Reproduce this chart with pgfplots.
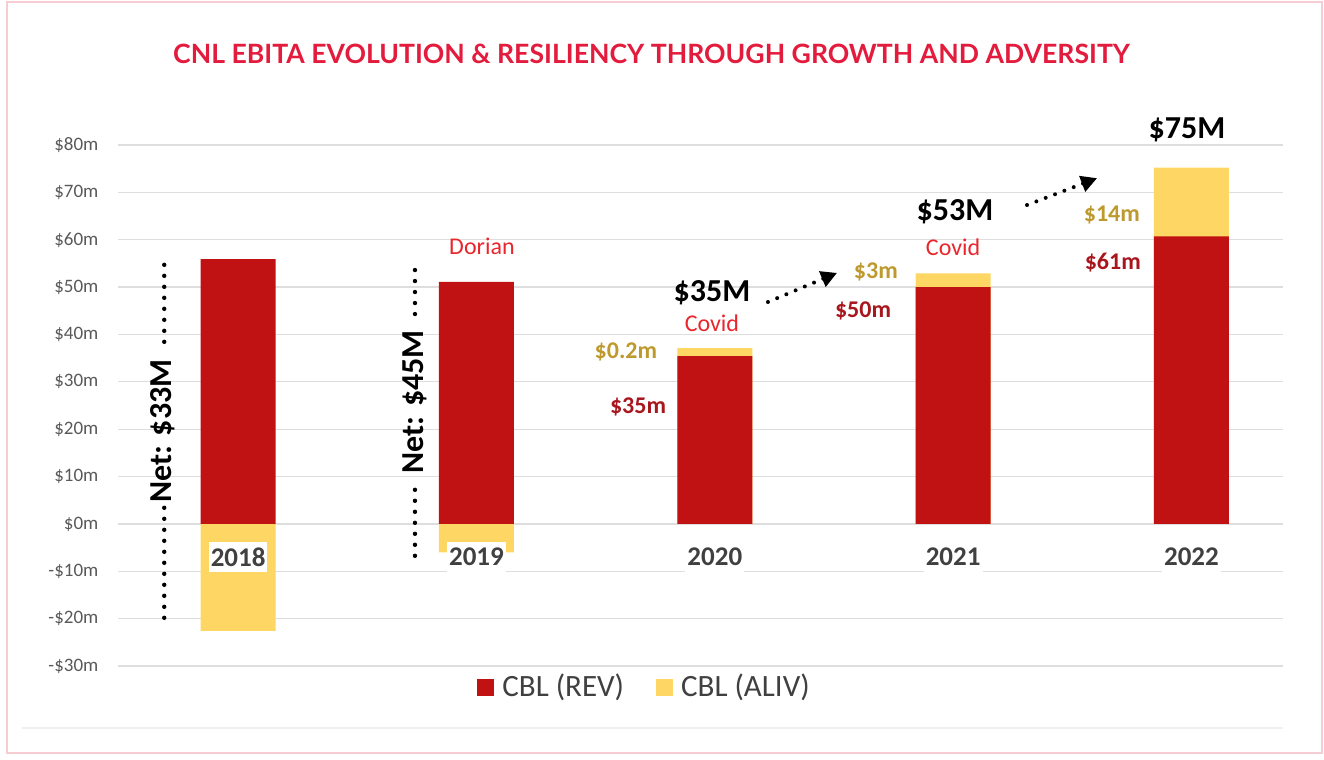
\documentclass[border=0pt]{standalone}
\usepackage{pgfplots}
\pgfplotsset{compat=1.18}
\usepackage{pgfplotstable}
\usepackage{fontspec}
\setmainfont{Carlito}
\newfontfamily\titlefont{Lato}
\usetikzlibrary{arrows.meta}

\definecolor{revred}{HTML}{C01212}
\definecolor{alivyel}{HTML}{FED664}
\definecolor{titlered}{HTML}{E31B3D}
\definecolor{notered}{HTML}{E8262C}
\definecolor{darkred}{HTML}{A8171E}
\definecolor{gold}{HTML}{BE9A2E}
\definecolor{gridgray}{HTML}{DEDEDE}
\definecolor{ticktext}{HTML}{595959}
\definecolor{labeltext}{HTML}{404040}
\definecolor{framepink}{HTML}{F7CDD4}

% EBITA in $m
\pgfplotstableread{
x year rev aliv
0 2018 55.9 -22.6
1 2019 51.1 -6.0
2 2020 35.4 1.7
3 2021 50.0 2.9
4 2022 60.7 14.5
}\ebita

\tikzset{
  dots/.style={line width=2.2pt, line cap=round, dash pattern=on 0pt off 5.5pt},
  big/.style={font=\bfseries\fontsize{16}{19}\selectfont},
  note/.style={text=notered, font=\fontsize{12}{14}\selectfont},
  goldlab/.style={text=gold, font=\bfseries\fontsize{12}{14}\selectfont},
  redlab/.style={text=darkred, font=\bfseries\fontsize{12}{14}\selectfont},
  darrow/.style={line width=2pt, line cap=round, dash pattern=on 0pt off 5pt,
    -{Triangle[length=8pt,width=8pt]}},
}

\begin{document}
\begin{tikzpicture}
\useasboundingbox (0,0) rectangle (662pt,-380pt);
\draw[framepink, line width=0.6pt] (3.5pt,-1pt) rectangle (661pt,-376.5pt);
\draw[gray!12, line width=0.6pt] (11pt,-364pt) -- (641.5pt,-364pt);
\node[text=titlered, font=\titlefont\fontsize{13.3}{16}\selectfont\bfseries] at (325.75pt,-26.75pt)
  {CNL EBITA EVOLUTION \& RESILIENCY THROUGH GROWTH AND ADVERSITY};

\begin{axis}[
  at={(59pt,-333pt)}, anchor=south west,
  width=582.5pt, height=260.5pt, scale only axis,
  xmin=-0.504, xmax=4.384, ymin=-30, ymax=80,
  ybar, bar width=37.5pt, bar shift=0pt,
  axis line style={draw=none},
  xtick=\empty,
  ytick={-30,-20,...,80},
  yticklabels={-\$30m,-\$20m,-\$10m,\$0m,\$10m,\$20m,\$30m,\$40m,\$50m,\$60m,\$70m,\$80m},
  major tick length=0pt,
  ymajorgrids, grid style={gridgray, line width=0.6pt},
  yticklabel style={font=\fontsize{9.5}{11}\selectfont, text=ticktext, xshift=-6.3pt},
  clip=false,
  legend columns=2, reverse legend,
  legend style={at={(0.303,-0.0403)}, anchor=west, draw=none, fill=none,
    font=\fontsize{15.5}{18}\selectfont, nodes={text=labeltext},
    /tikz/every odd column/.append style={column sep=2pt},
    /tikz/every even column/.append style={column sep=14pt}},
  legend image code/.code={\fill[#1] (0pt,-4.25pt) rectangle (8.5pt,4.25pt);},
]
% yellow drawn first, down from 0 where negative, up to the total where positive
\addplot[fill=alivyel, draw=none, bar shift=0pt] table[x=x,
  y expr={ifthenelse(\thisrow{aliv}<0, \thisrow{aliv}, \thisrow{rev}+\thisrow{aliv})}] {\ebita};
\addplot[fill=revred, draw=none, bar shift=0pt] table[x=x, y=rev] {\ebita};
\legend{CBL (ALIV), CBL (REV)}

% year labels
\foreach \i/\yr in {0/2018,1/2019,2/2020,3/2021,4/2022}{
  \edef\tmp{\noexpand\node[fill=white, inner xsep=1pt, inner ysep=3pt, text=labeltext,
    font=\noexpand\bfseries\noexpand\fontsize{13.5}{16}\noexpand\selectfont] at (axis cs:\i,-7) {\yr};}
  \tmp
}

% net labels for 2018 and 2019
\draw[dots] (axis cs:-0.31,54.7) -- (axis cs:-0.31,37.8);
\draw[dots] (axis cs:-0.31,3.4) -- (axis cs:-0.31,-20.3);
\node[big, rotate=90] at (axis cs:-0.315,19.6) {Net: \$33M};
\draw[dots] (axis cs:0.742,53.6) -- (axis cs:0.742,43.7);
\draw[dots] (axis cs:0.742,7.2) -- (axis cs:0.742,-7.6);
\node[big, rotate=90] at (axis cs:0.742,25.8) {Net: \$45M};
\node[note] at (axis cs:1.023,58.7) {Dorian};

% 2020
\node[big] at (axis cs:1.988,48.75) {\$35M};
\node[note] at (axis cs:1.988,42.4) {Covid};
\node[goldlab] at (axis cs:1.627,36.3) {\$0.2m};
\node[redlab] at (axis cs:1.678,24.7) {\$35m};
\draw[darrow] (axis cs:2.223,46.85) -- (axis cs:2.513,53.0);

% 2021
\node[big] at (axis cs:3.008,65.85) {\$53M};
\node[note] at (axis cs:3.000,58.5) {Covid};
\node[goldlab] at (axis cs:2.676,53.2) {\$3m};
\node[redlab] at (axis cs:2.622,44.95) {\$50m};
\draw[darrow] (axis cs:3.310,67.33) -- (axis cs:3.604,73.0);

% 2022
\node[big] at (axis cs:3.981,83.2) {\$75M};
\node[goldlab] at (axis cs:3.666,65.2) {\$14m};
\node[redlab] at (axis cs:3.670,55.1) {\$61m};
\end{axis}
\end{tikzpicture}
\end{document}
